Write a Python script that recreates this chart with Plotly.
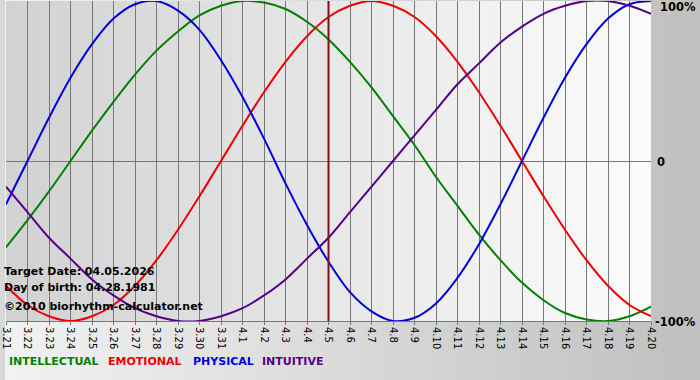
import plotly.graph_objects as go

# ---- data ----
dates = ["3.21", "3.22", "3.23", "3.24", "3.25", "3.26", "3.27", "3.28", "3.29", "3.30", "3.31",
         "4.1", "4.2", "4.3", "4.4", "4.5", "4.6", "4.7", "4.8", "4.9", "4.10",
         "4.11", "4.12", "4.13", "4.14", "4.15", "4.16", "4.17", "4.18", "4.19", "4.20"]

intellectual = [-0.54, -0.37, -0.19, 0.00, 0.19, 0.37, 0.54, 0.69, 0.81, 0.91, 0.97,
                1.00, 0.99, 0.95, 0.87, 0.76, 0.62, 0.46, 0.28, 0.10, -0.10,
                -0.28, -0.46, -0.62, -0.76, -0.87, -0.95, -0.99, -1.00, -0.97, -0.91]
emotional = [-0.78, -0.90, -0.97, -1.00, -0.97, -0.90, -0.78, -0.62, -0.43, -0.22, 0.00,
             0.22, 0.43, 0.62, 0.78, 0.90, 0.97, 1.00, 0.97, 0.90, 0.78,
             0.62, 0.43, 0.22, 0.00, -0.22, -0.43, -0.62, -0.78, -0.90, -0.97]
physical = [-0.27, 0.00, 0.27, 0.52, 0.73, 0.89, 0.98, 1.00, 0.94, 0.82, 0.63,
            0.40, 0.14, -0.14, -0.40, -0.63, -0.82, -0.94, -1.00, -0.98, -0.89,
            -0.73, -0.52, -0.27, 0.00, 0.27, 0.52, 0.73, 0.89, 0.98, 1.00]
intuitive = [-0.16, -0.32, -0.48, -0.61, -0.74, -0.84, -0.92, -0.97, -1.00, -1.00, -0.97,
             -0.92, -0.84, -0.74, -0.61, -0.48, -0.32, -0.16, 0.00, 0.16, 0.32,
             0.48, 0.61, 0.74, 0.84, 0.92, 0.97, 1.00, 1.00, 0.97, 0.92]

series_names = ["INTELLECTUAL", "EMOTIONAL", "PHYSICAL", "INTUITIVE"]
target_date = "4.5"
info_lines = ["Target Date: 04.05.2026", "Day of birth: 04.28.1981", "\u00a92010 biorhythm-calculator.net"]
right_labels = ["100%", "0", "-100%"]

# ---- layout geometry ----
W, H = 700, 380
ML, MR, MT, MB = 1, 49, 1, 59
PW = W - ML - MR
PH = H - MT - MB

def px2x(px):
    return (px - ML) / PW

def py2y(py):
    return (MT + PH - py) / PH

colors = {"INTELLECTUAL": "#008000", "EMOTIONAL": "#ee0000", "PHYSICAL": "#0000dd", "INTUITIVE": "#550088"}
values = {"INTELLECTUAL": intellectual, "EMOTIONAL": emotional, "PHYSICAL": physical, "INTUITIVE": intuitive}

fig = go.Figure()
for name in series_names:
    fig.add_trace(go.Scatter(x=dates, y=values[name], mode="lines", name=name,
                             line=dict(color=colors[name], width=2, shape="spline", smoothing=1.0),
                             hoverinfo="skip"))

shapes = []

def lerp(c1, c2, t):
    return "rgb(%d,%d,%d)" % tuple(round(a + (b - a) * t) for a, b in zip(c1, c2))

# outer gradient
n_out = 70
for i in range(n_out):
    x0 = i * W / n_out
    x1 = (i + 1) * W / n_out + 0.5
    shapes.append(dict(type="rect", xref="paper", yref="paper", layer="below",
                       x0=px2x(x0), x1=px2x(x1), y0=py2y(H), y1=py2y(0),
                       fillcolor=lerp((242, 242, 242), (192, 192, 192), i / (n_out - 1)),
                       line=dict(width=0)))
# plot area gradient
n_in = 65
for i in range(n_in):
    x0 = ML + i * PW / n_in
    x1 = ML + (i + 1) * PW / n_in + 0.5
    if i == n_in - 1:
        x1 = ML + PW
    shapes.append(dict(type="rect", xref="paper", yref="paper", layer="below",
                       x0=px2x(x0), x1=px2x(x1), y0=0, y1=1,
                       fillcolor=lerp((210, 210, 210), (252, 252, 252), i / (n_in - 1)),
                       line=dict(width=0)))
# target line
ti = dates.index(target_date)
shapes.append(dict(type="line", xref="x", yref="paper", layer="above",
                   x0=ti, x1=ti, y0=0, y1=1, line=dict(color="#7a1414", width=2)))

annotations = []
font_b = "DejaVu Sans"
for i, txt in enumerate(info_lines):
    annotations.append(dict(text="<b>%s</b>" % txt, xref="paper", yref="paper",
                            x=px2x(-3), y=py2y([271, 287, 306][i]), xanchor="left", yanchor="middle",
                            showarrow=False, font=dict(family=font_b, size=11, color="#000")))
for txt, py in zip(right_labels, [7, 162, 322]):
    annotations.append(dict(text="<b>%s</b>" % txt, xref="paper", yref="paper",
                            x=px2x(698) if txt != "0" else px2x(655), y=py2y(py),
                            xanchor="right" if txt != "0" else "left", yanchor="middle",
                            showarrow=False, font=dict(family=font_b, size=11.5, color="#000")))
for name, px in zip(series_names, [2, 102, 187, 257]):
    annotations.append(dict(text="<b>%s</b>" % name, xref="paper", yref="paper",
                            x=px2x(px), y=py2y(361), xanchor="left", yanchor="middle",
                            showarrow=False, font=dict(family=font_b, size=11, color=colors[name])))

fig.update_layout(
    width=W, height=H, margin=dict(l=ML, r=MR, t=MT, b=MB),
    paper_bgcolor="#d8d8d8", plot_bgcolor="rgba(0,0,0,0)",
    showlegend=False, shapes=shapes, annotations=annotations,
    xaxis=dict(type="category", range=[0, len(dates) - 1], showgrid=True, gridcolor="#777777", gridwidth=1,
               tickmode="array", tickvals=dates, ticktext=dates, tickangle=90,
               ticks="outside", ticklen=3, tickcolor="#777777",
               tickfont=dict(family="DejaVu Sans", size=10, color="#000"),
               showline=True, linecolor="#777777", linewidth=1, zeroline=False, fixedrange=True),
    yaxis=dict(range=[-1, 1], showgrid=False, zeroline=True, zerolinecolor="#777777", zerolinewidth=1,
               showticklabels=False, showline=False, fixedrange=True),
)

fig.write_html("out.html")
